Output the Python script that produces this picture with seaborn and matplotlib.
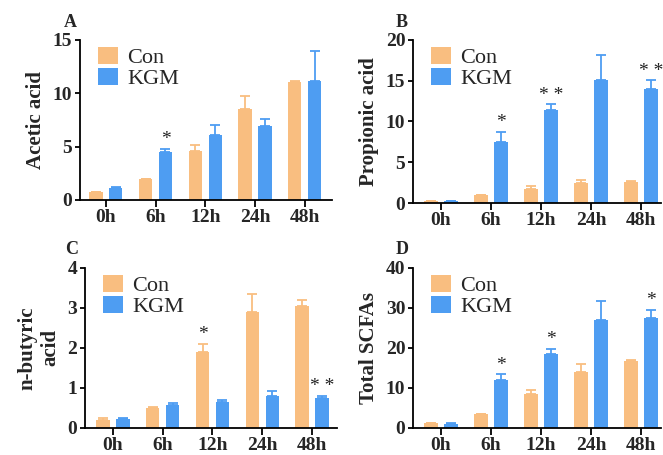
import matplotlib
matplotlib.use("Agg")
import matplotlib.pyplot as plt
import seaborn as sns
import pandas as pd

times = ["0h", "6h", "12h", "24h", "48h"]
groups = ["Con", "KGM"]

acetic_con = [0.72, 1.94, 4.6, 8.56, 11.1]
acetic_con_err = [0.05, 0.05, 0.6, 1.15, 0.05]
acetic_kgm = [1.1, 4.47, 6.1, 6.97, 11.2]
acetic_kgm_err = [0.1, 0.33, 0.9, 0.65, 2.8]

propionic_con = [0.25, 0.95, 1.76, 2.46, 2.58]
propionic_con_err = [0.05, 0.05, 0.3, 0.35, 0.1]
propionic_kgm = [0.2, 7.54, 11.43, 15.08, 13.93]
propionic_kgm_err = [0.05, 1.23, 0.67, 3.07, 1.11]

butyric_con = [0.19, 0.5, 1.89, 2.9, 3.06]
butyric_con_err = [0.05, 0.02, 0.21, 0.44, 0.14]
butyric_kgm = [0.22, 0.58, 0.65, 0.8, 0.76]
butyric_kgm_err = [0.03, 0.04, 0.05, 0.13, 0.05]

total_con = [1.24, 3.4, 8.4, 13.9, 16.8]
total_con_err = [0.1, 0.1, 1.0, 2.0, 0.1]
total_kgm = [1.08, 11.9, 18.6, 26.9, 27.5]
total_kgm_err = [0.1, 1.5, 1.15, 4.9, 2.1]

# significance marks: (group, time index, text)
acetic_marks = [("KGM", 1, "*")]
propionic_marks = [("KGM", 1, "*"), ("KGM", 2, "* *"), ("KGM", 4, "* *")]
butyric_marks = [("Con", 2, "*"), ("KGM", 4, "* *")]
total_marks = [("KGM", 1, "*"), ("KGM", 2, "*"), ("KGM", 4, "*")]

palette = {"Con": "#F9BE80", "KGM": "#4E9DF2"}

sns.set_style("ticks")
plt.rcParams["font.family"] = ["Liberation Serif", "DejaVu Serif"]

fig = plt.figure(figsize=(6.63, 4.55), dpi=100)
W, H = 663, 455


def add_ax(l, t, r, b):
    return fig.add_axes([l / W, 1 - b / H, (r - l) / W, (b - t) / H])


def panel(ax, con, con_err, kgm, kgm_err, marks, ylabel, ymax, step, xlim):
    df = pd.DataFrame({
        "time": times * 2,
        "group": ["Con"] * 5 + ["KGM"] * 5,
        "value": con + kgm,
    })
    sns.barplot(data=df, x="time", y="value", hue="group", order=times,
                hue_order=groups, palette=palette, gap=0.33, errorbar=None,
                saturation=1, linewidth=0, ax=ax, legend=True)
    errs = {"Con": con_err, "KGM": kgm_err}
    vals = {"Con": con, "KGM": kgm}
    xpos = {}
    for g, cont in zip(groups, ax.containers):
        xs = [p.get_x() + p.get_width() / 2 for p in cont.patches]
        xpos[g] = xs
        ax.errorbar(xs, vals[g], yerr=[[0] * 5, errs[g]], fmt="none",
                    ecolor=palette[g], elinewidth=1.3, capsize=3.5,
                    capthick=1.3, zorder=3)
    for g, i, txt in marks:
        top = vals[g][i] + errs[g][i]
        ax.text(xpos[g][i], top + ymax * 0.005, txt, ha="center", va="bottom",
                fontsize=14, color="#222222")
    ax.set_ylim(0, ymax)
    ax.set_yticks(range(0, ymax + 1, step))
    ax.set_xlim(*xlim)
    ax.set_xlabel("")
    ax.set_ylabel(ylabel, fontsize=15, fontweight="bold", labelpad=5)
    for lab in ax.get_xticklabels() + ax.get_yticklabels():
        lab.set_fontweight("bold")
    ax.tick_params(axis="both", labelsize=14, width=1.3, length=3.5,
                   color="black", pad=2)
    ax.tick_params(axis="x", length=5, pad=1.5)
    for s in ["left", "bottom"]:
        ax.spines[s].set_linewidth(1.3)
        ax.spines[s].set_color("black")
    sns.despine(ax=ax)
    ax.legend(loc="upper left", bbox_to_anchor=(0.02, 1.04), frameon=False,
              fontsize=16, handlelength=0.9, handleheight=0.8,
              handletextpad=0.4, labelspacing=0.0, borderaxespad=0.2)


ax_a = add_ax(80, 40, 332, 200)
panel(ax_a, acetic_con, acetic_con_err, acetic_kgm, acetic_kgm_err,
      acetic_marks, "Acetic acid", 15, 5, (-0.52, 4.55))

ax_b = add_ax(413, 40, 661, 203)
panel(ax_b, propionic_con, propionic_con_err, propionic_kgm, propionic_kgm_err,
      propionic_marks, "Propionic acid", 20, 5, (-0.56, 4.4))

ax_c = add_ax(85, 268, 337, 428)
panel(ax_c, butyric_con, butyric_con_err, butyric_kgm, butyric_kgm_err,
      butyric_marks, "n-butyric\nacid", 4, 1, (-0.56, 4.5))

ax_d = add_ax(413, 268, 661, 428)
panel(ax_d, total_con, total_con_err, total_kgm, total_kgm_err,
      total_marks, "Total SCFAs", 40, 10, (-0.56, 4.4))

# panel letters
for letter, px, py in [("A", 64, 27), ("B", 396, 27), ("C", 65, 254), ("D", 396, 254)]:
    fig.text(px / W, 1 - py / H, letter, fontsize=13, fontweight="bold",
             ha="left", va="baseline")

fig.savefig("out.png", dpi=100)
